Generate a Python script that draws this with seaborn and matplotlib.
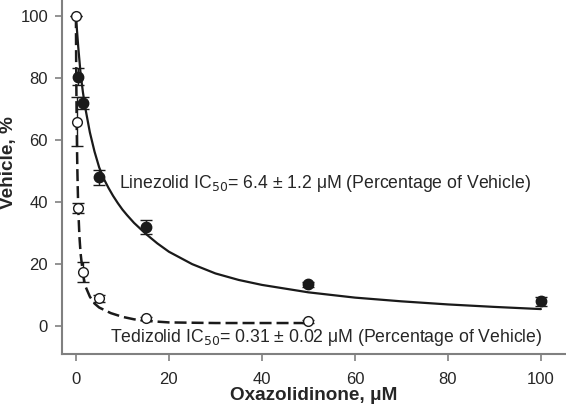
import numpy as np
import pandas as pd
import matplotlib
matplotlib.use("Agg")
import matplotlib.pyplot as plt
import seaborn as sns

# Measured data (mean ± SEM)
lin_x = [0.5, 1.5, 5, 15, 50, 100]
lin_y = [80.5, 72.0, 48.0, 32.0, 13.5, 8.0]
lin_err = [2.7, 2.0, 2.5, 2.2, 0.8, 1.5]

ted_x = [0.05, 0.15, 0.5, 1.5, 5, 15, 50]
ted_y = [100.0, 66.0, 38.0, 17.5, 9.0, 2.5, 1.6]
ted_err = [0.0, 8.0, 1.6, 3.2, 1.1, 0.5, 0.5]

# Fitted curves
lin_fit_x = [0, 0.25, 0.5, 1, 1.5, 2, 3, 4, 5, 6, 7, 8, 9, 10, 11, 12.5, 15, 17.5,
             20, 25, 30, 35, 40, 50, 60, 70, 80, 90, 100]
lin_fit_y = [100, 95, 90, 81.5, 75.5, 70.5, 62.5, 56.3, 51.2, 47.5, 44.6, 42.0, 39.7, 37.6,
             35.8, 33.3, 29.8, 26.7, 24.0, 20.0, 17.0, 14.9, 13.3, 10.9, 9.2, 8.0, 7.0, 6.2, 5.5]

ted_fit_x = [0, 0.05, 0.1, 0.15, 0.2, 0.3, 0.4, 0.5, 0.75, 1, 1.5, 2, 3, 4, 5, 7.5,
             10, 12.5, 15, 20, 30, 40, 50]
ted_fit_y = [100, 86, 76, 67, 61, 51, 44, 38, 29, 23.5, 17, 13, 9.5, 7.3, 6, 4.2,
             3.0, 2.2, 1.7, 1.2, 1.0, 1.0, 1.0]

x_ticks = [0, 20, 40, 60, 80, 100]
y_ticks = [0, 20, 40, 60, 80, 100]

sns.set_style("ticks")
plt.rcParams['font.family'] = ['Liberation Sans', 'DejaVu Sans']

fig = plt.figure(figsize=(5.66, 4.17), dpi=100)
ax = fig.add_axes([0.1095, 0.151, 0.8905, 0.849])

lin_fit = pd.DataFrame({"x": lin_fit_x, "y": lin_fit_y})
ted_fit = pd.DataFrame({"x": ted_fit_x, "y": ted_fit_y})

sns.lineplot(data=lin_fit, x="x", y="y", ax=ax, color="#1a1a1a", lw=1.6, sort=False)
sns.lineplot(data=ted_fit, x="x", y="y", ax=ax, color="#1a1a1a", lw=1.8, sort=False)
ax.lines[-1].set_dashes((4.8, 2.0))

ax.errorbar(lin_x, lin_y, yerr=lin_err, fmt='o', color='#1a1a1a', ms=7.5,
            mfc='#1a1a1a', mec='#1a1a1a', capsize=4.5, elinewidth=1.0, capthick=1.0, zorder=5)
ax.errorbar(ted_x, ted_y, yerr=ted_err, fmt='o', color='#1a1a1a', ms=7,
            mfc='white', mec='#1a1a1a', mew=1.0, capsize=4.5, elinewidth=1.0, capthick=1.0, zorder=6)

ax.text(9.3, 46, r"Linezolid IC$_{50}$= 6.4 ± 1.2 μM (Percentage of Vehicle)",
        fontsize=12.7, color='#262626', va='center', ha='left')
ax.text(7.3, -3.8, r"Tedizolid IC$_{50}$= 0.31 ± 0.02 μM (Percentage of Vehicle)",
        fontsize=12.7, color='#262626', va='center', ha='left')

ax.set_xlim(-3.0, 105.4)
ax.set_ylim(-9.0, 105.2)
ax.set_xticks(x_ticks)
ax.set_yticks(y_ticks)
ax.tick_params(axis='both', labelsize=12, colors='#808080', labelcolor='#262626',
               length=5, width=1.2, direction='out')
ax.tick_params(axis='y', pad=5)
ax.tick_params(axis='x', pad=8)
for s in ['top', 'right']:
    ax.spines[s].set_visible(False)
for s in ['left', 'bottom']:
    ax.spines[s].set_color('#808080')
    ax.spines[s].set_linewidth(1.5)

ax.set_xlabel("Oxazolidinone, μM", fontsize=13.6, fontweight='bold', color='#262626')
ax.set_ylabel("Vehicle, %", fontsize=13.6, fontweight='bold', color='#262626')
ax.xaxis.label.set_va('center')
ax.yaxis.label.set_va('center')
ax.xaxis.set_label_coords(0.5, -0.116)
ax.yaxis.set_label_coords(-0.106, 0.54)

fig.savefig("out.png", dpi=100)
